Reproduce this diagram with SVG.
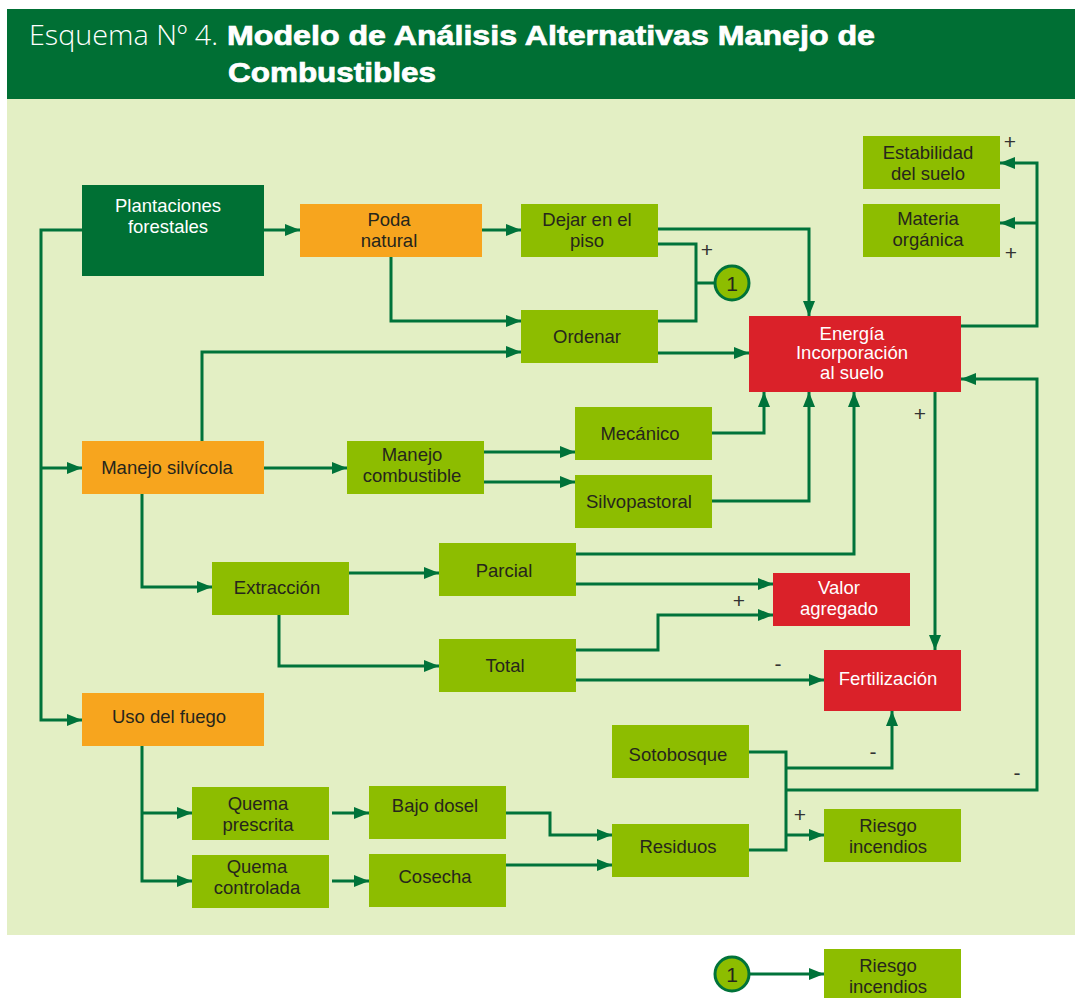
<svg xmlns="http://www.w3.org/2000/svg" width="1075" height="998" viewBox="0 0 1075 998">
  <style>
    .hdr { fill: #006f34; }
    .panel { fill: #e3efc4; }
    .g { fill: #8dbd00; }
    .o { fill: #f7a51e; }
    .r { fill: #da2129; }
    .dg { fill: #007034; }
    .t { font-family: "Liberation Sans", Arial, sans-serif; font-size: 18.5px; fill: #26261c; text-anchor: middle; }
    .w { font-family: "Liberation Sans", Arial, sans-serif; font-size: 18.5px; fill: #ffffff; text-anchor: middle; }
    .sign { font-family: "Liberation Sans", Arial, sans-serif; font-size: 21px; fill: #333333; text-anchor: middle; }
    .c { fill: none; stroke: #00733a; stroke-width: 3; }
    .ca { fill: none; stroke: #00733a; stroke-width: 3; marker-end: url(#arr); }
    .ring { fill: #8dbd00; stroke: #00733a; stroke-width: 3; }
    .num { font-family: "Liberation Sans", Arial, sans-serif; font-size: 21px; fill: #26261c; text-anchor: middle; }
    .ttl { font-family: "Liberation Sans", Arial, sans-serif; font-size: 27px; font-weight: bold; fill: #ffffff; stroke: #ffffff; stroke-width: 0.7; }
    .lead { font-family: "Open Sans", "Liberation Sans", Arial, sans-serif; font-size: 27px; font-weight: 300; fill: #ffffff; }
  </style>
  <defs>
    <marker id="arr" viewBox="0 0 15 12" refX="15" refY="6" markerWidth="15" markerHeight="12" markerUnits="userSpaceOnUse" orient="auto">
      <path d="M0,0 L15,6 L0,12 z" fill="#00733a"/>
    </marker>
  </defs>

  <!-- heading band and panel -->
  <rect class="hdr" x="7" y="9" width="1068" height="90"/>
  <rect class="panel" x="7" y="99" width="1068" height="836"/>
  <g id="title">
    <text class="lead" x="29" y="45" textLength="189" lengthAdjust="spacingAndGlyphs">Esquema Nº 4.</text>
    <text class="ttl" x="227" y="45" textLength="648" lengthAdjust="spacingAndGlyphs">Modelo de Análisis Alternativas Manejo de</text>
    <text class="ttl" x="228" y="82" textLength="208" lengthAdjust="spacingAndGlyphs">Combustibles</text>
  </g>

  <!-- connectors -->
  <g id="connectors">
    <path class="ca" d="M264 230 H300"/>
    <path class="ca" d="M482 230 H521"/>
    <path class="ca" d="M391 257 V321 H521"/>
    <path class="ca" d="M202 441 V352 H521"/>
    <path class="ca" d="M658 229 H809 V316"/>
    <path class="c" d="M658 244 H696 V321 H658 M696 283 H715"/>
    <path class="ca" d="M658 353 H749"/>
    <path class="ca" d="M961 326 H1037 V163 H1000"/>
    <path class="ca" d="M1037 223 H1000"/>
    <path class="ca" d="M82 230 H41 V720 H82"/>
    <path class="ca" d="M41 468 H82"/>
    <path class="ca" d="M264 468 H347"/>
    <path class="ca" d="M484 452 H575"/>
    <path class="ca" d="M484 482 H575"/>
    <path class="ca" d="M712 433 H764 V392"/>
    <path class="ca" d="M712 501 H809 V392"/>
    <path class="ca" d="M576 554 H854 V392"/>
    <path class="ca" d="M576 584 H773"/>
    <path class="ca" d="M576 650 H658 V615 H773"/>
    <path class="ca" d="M576 680 H824"/>
    <path class="ca" d="M935 392 V650"/>
    <path class="ca" d="M142 494 V587 H212"/>
    <path class="ca" d="M349 573 H439"/>
    <path class="ca" d="M279 615 V666 H439"/>
    <path class="ca" d="M142 746 V881 H192"/>
    <path class="ca" d="M142 813 H192"/>
    <path class="ca" d="M332 813 H369"/>
    <path class="ca" d="M332 881 H369"/>
    <path class="ca" d="M506 813 H550 V835 H612"/>
    <path class="ca" d="M506 865 H612"/>
    <path class="c" d="M749 752 H786 V850 H749"/>
    <path class="ca" d="M786 768 H892 V711"/>
    <path class="ca" d="M786 790 H1037 V379 H961"/>
    <path class="ca" d="M786 835 H824"/>
    <path class="ca" d="M749 974 H824"/>
  </g>

  <!-- signs on connectors -->
  <g id="signs">
    <text class="sign" x="707" y="257">+</text>
    <text class="sign" x="1010" y="149">+</text>
    <text class="sign" x="1011" y="260">+</text>
    <text class="sign" x="920" y="421">+</text>
    <text class="sign" x="739" y="608">+</text>
    <text class="sign" x="778" y="671">-</text>
    <text class="sign" x="873" y="759">-</text>
    <text class="sign" x="1017" y="780">-</text>
    <text class="sign" x="800" y="822">+</text>
  </g>

  <g id="plantaciones">
    <rect class="dg" x="82" y="185" width="182" height="91"/>
    <text class="w" x="168" y="212">Plantaciones</text>
    <text class="w" x="168" y="233">forestales</text>
  </g>
  <g id="poda-natural">
    <rect class="o" x="300" y="204" width="182" height="53"/>
    <text class="t" x="389" y="226">Poda</text>
    <text class="t" x="389" y="247">natural</text>
  </g>
  <g id="dejar-piso">
    <rect class="g" x="521" y="204" width="137" height="53"/>
    <text class="t" x="587" y="226">Dejar en el</text>
    <text class="t" x="587" y="247">piso</text>
  </g>
  <g id="marca-1">
    <circle class="ring" cx="732" cy="283" r="17"/>
    <text class="num" x="732" y="291">1</text>
  </g>
  <g id="ordenar">
    <rect class="g" x="521" y="310" width="137" height="53"/>
    <text class="t" x="587" y="343">Ordenar</text>
  </g>
  <g id="estabilidad">
    <rect class="g" x="863" y="136" width="137" height="53"/>
    <text class="t" x="928" y="159">Estabilidad</text>
    <text class="t" x="928" y="180">del suelo</text>
  </g>
  <g id="materia">
    <rect class="g" x="863" y="204" width="137" height="53"/>
    <text class="t" x="928" y="225">Materia</text>
    <text class="t" x="928" y="246">orgánica</text>
  </g>
  <g id="energia">
    <rect class="r" x="749" y="316" width="212" height="76"/>
    <text class="w" x="852" y="340">Energía</text>
    <text class="w" x="852" y="359">Incorporación</text>
    <text class="w" x="852" y="379">al suelo</text>
  </g>
  <g id="manejo-silvicola">
    <rect class="o" x="82" y="441" width="182" height="53"/>
    <text class="t" x="167" y="474">Manejo silvícola</text>
  </g>
  <g id="manejo-combustible">
    <rect class="g" x="347" y="441" width="137" height="53"/>
    <text class="t" x="412" y="461">Manejo</text>
    <text class="t" x="412" y="482">combustible</text>
  </g>
  <g id="mecanico">
    <rect class="g" x="575" y="407" width="137" height="53"/>
    <text class="t" x="640" y="440">Mecánico</text>
  </g>
  <g id="silvopastoral">
    <rect class="g" x="575" y="475" width="137" height="53"/>
    <text class="t" x="639" y="508">Silvopastoral</text>
  </g>
  <g id="extraccion">
    <rect class="g" x="212" y="562" width="137" height="53"/>
    <text class="t" x="277" y="594">Extracción</text>
  </g>
  <g id="parcial">
    <rect class="g" x="439" y="543" width="137" height="53"/>
    <text class="t" x="504" y="577">Parcial</text>
  </g>
  <g id="total">
    <rect class="g" x="439" y="639" width="137" height="53"/>
    <text class="t" x="505" y="672">Total</text>
  </g>
  <g id="valor-agregado">
    <rect class="r" x="773" y="573" width="137" height="53"/>
    <text class="w" x="839" y="594">Valor</text>
    <text class="w" x="839" y="615">agregado</text>
  </g>
  <g id="fertilizacion">
    <rect class="r" x="824" y="650" width="137" height="61"/>
    <text class="w" x="888" y="685">Fertilización</text>
  </g>
  <g id="uso-fuego">
    <rect class="o" x="82" y="693" width="182" height="53"/>
    <text class="t" x="169" y="723">Uso del fuego</text>
  </g>
  <g id="quema-prescrita">
    <rect class="g" x="192" y="787" width="137" height="53"/>
    <text class="t" x="258" y="810">Quema</text>
    <text class="t" x="258" y="831">prescrita</text>
  </g>
  <g id="quema-controlada">
    <rect class="g" x="192" y="855" width="137" height="53"/>
    <text class="t" x="257" y="873">Quema</text>
    <text class="t" x="257" y="894">controlada</text>
  </g>
  <g id="bajo-dosel">
    <rect class="g" x="369" y="786" width="137" height="53"/>
    <text class="t" x="435" y="812">Bajo dosel</text>
  </g>
  <g id="cosecha">
    <rect class="g" x="369" y="854" width="137" height="53"/>
    <text class="t" x="435" y="883">Cosecha</text>
  </g>
  <g id="sotobosque">
    <rect class="g" x="612" y="725" width="137" height="53"/>
    <text class="t" x="678" y="761">Sotobosque</text>
  </g>
  <g id="residuos">
    <rect class="g" x="612" y="824" width="137" height="53"/>
    <text class="t" x="678" y="853">Residuos</text>
  </g>
  <g id="riesgo-incendios">
    <rect class="g" x="824" y="809" width="137" height="53"/>
    <text class="t" x="888" y="832">Riesgo</text>
    <text class="t" x="888" y="853">incendios</text>
  </g>

  <!-- key below the panel -->
  <g id="clave-1">
    <circle class="ring" cx="732" cy="974" r="17"/>
    <text class="num" x="732" y="982">1</text>
  </g>
  <g id="riesgo-incendios-clave">
    <rect class="g" x="824" y="949" width="137" height="49"/>
    <text class="t" x="888" y="972">Riesgo</text>
    <text class="t" x="888" y="993">incendios</text>
  </g>
</svg>
